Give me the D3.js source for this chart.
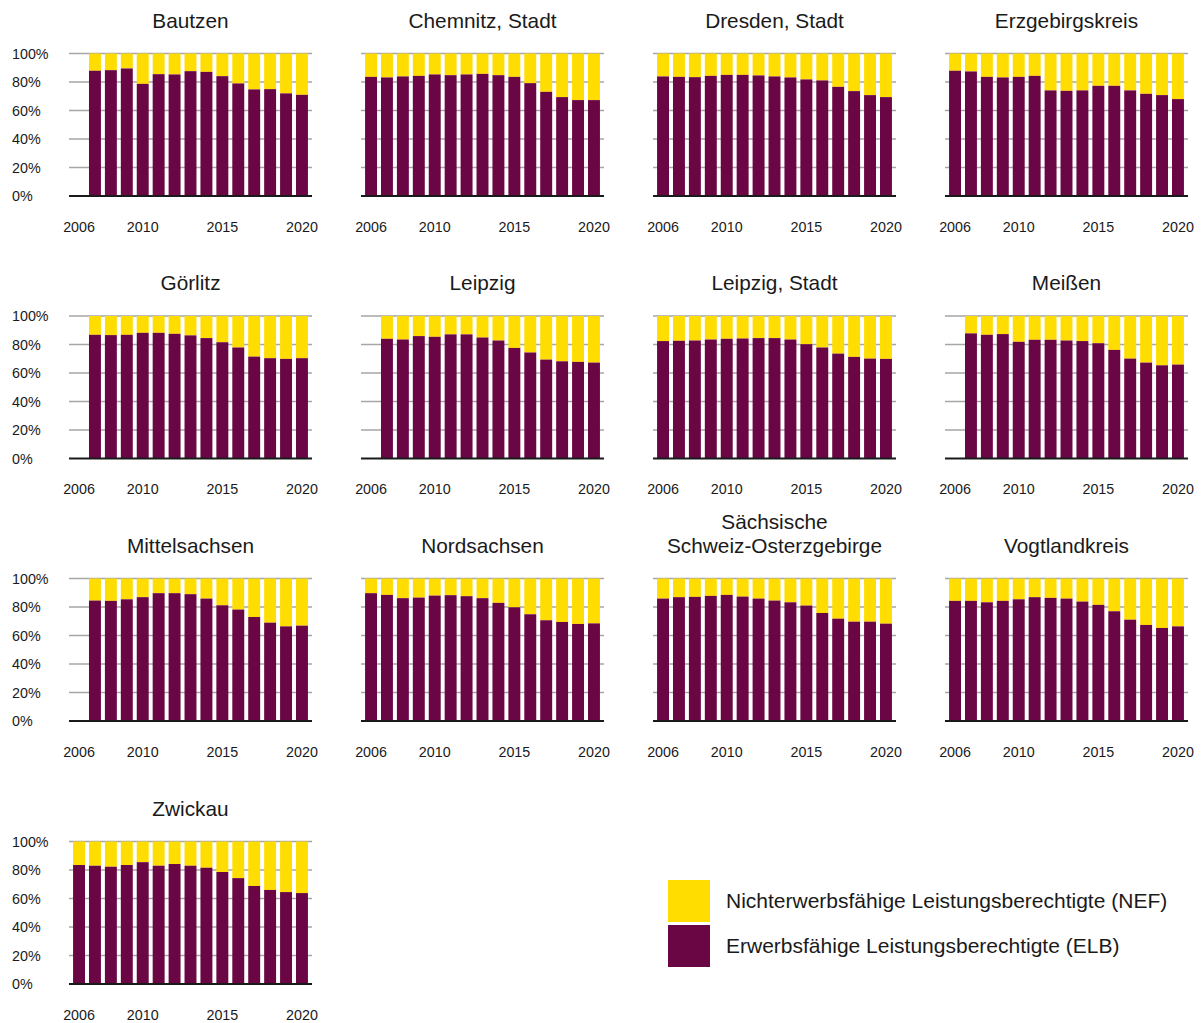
<!DOCTYPE html>
<html><head><meta charset="utf-8">
<script src="https://cdn.jsdelivr.net/npm/d3@7"></script>
<style>
html,body{margin:0;padding:0;background:#fff;}
text{font-family:"Liberation Sans",Arial,sans-serif;fill:#1a1a1a;}
</style></head>
<body>
<svg id="chart" width="1203" height="1023"></svg>
<script>
// ---------- DATA ----------
const years = [2006,2007,2008,2009,2010,2011,2012,2013,2014,2015,2016,2017,2018,2019,2020];
const yearTickLabels = [2006, 2010, 2015, 2020];
const yTickValues = [0, 20, 40, 60, 80, 100];
const seriesNames = ["Nichterwerbsfähige Leistungsberechtigte (NEF)", "Erwerbsfähige Leistungsberechtigte (ELB)"];
const regionNames = ["Bautzen","Chemnitz, Stadt","Dresden, Stadt","Erzgebirgskreis","Görlitz","Leipzig","Leipzig, Stadt","Meißen","Mittelsachsen","Nordsachsen","Sächsische Schweiz-Osterzgebirge","Vogtlandkreis","Zwickau"];
const regionTitleLines = [["Bautzen"],["Chemnitz, Stadt"],["Dresden, Stadt"],["Erzgebirgskreis"],["Görlitz"],["Leipzig"],["Leipzig, Stadt"],["Meißen"],["Mittelsachsen"],["Nordsachsen"],["Sächsische","Schweiz-Osterzgebirge"],["Vogtlandkreis"],["Zwickau"]];

// ELB share in % per year (2006..2020); null = no value
const elbBautzen      = [null,87.9,88.3,89.5,78.7,85.5,85.3,87.6,87.1,84.1,79.0,74.8,75.0,72.0,71.0];
const elbChemnitz     = [83.6,83.2,83.9,84.3,85.3,84.8,85.3,85.7,84.8,83.6,79.2,73.1,69.4,67.3,67.3];
const elbDresden      = [83.9,83.6,83.4,84.3,85.0,85.0,84.6,83.9,83.2,81.8,81.1,76.6,73.6,70.8,69.4];
const elbErzgebirge   = [87.9,87.4,83.6,83.2,83.6,84.3,74.1,73.8,74.1,77.3,77.3,74.1,71.7,70.8,68.0];
const elbGoerlitz     = [null,86.8,86.6,86.8,88.2,88.2,87.5,86.4,84.5,81.6,77.9,71.5,70.4,69.9,70.4];
const elbLeipzig      = [null,84.0,83.5,85.9,85.4,87.1,87.1,84.9,82.8,77.6,74.4,69.4,68.2,67.8,67.3];
const elbLeipzigStadt = [82.4,82.6,82.8,83.5,84.0,84.2,84.5,84.5,83.5,80.2,77.9,73.6,71.3,70.1,69.9];
const elbMeissen      = [null,87.8,86.8,87.3,81.9,83.3,83.3,82.8,82.4,80.9,76.2,70.1,67.3,65.4,65.9];
const elbMittelsachsen= [null,84.5,84.3,85.4,86.9,89.7,89.7,89.0,85.9,81.2,78.2,73.0,69.0,66.4,66.9];
const elbNordsachsen  = [89.7,88.5,86.2,86.6,88.0,88.3,87.6,86.2,82.9,79.8,74.9,70.7,69.5,68.1,68.5];
const elbSaechsSchweiz= [85.9,86.9,87.1,87.8,88.5,87.3,85.9,84.5,83.3,81.0,75.8,71.8,69.7,69.7,68.3];
const elbVogtland     = [84.3,84.3,83.3,84.3,85.4,86.9,86.4,85.9,83.8,81.5,77.0,71.1,67.4,65.3,66.4];
const elbZwickau      = [83.5,83.0,82.3,83.5,85.5,83.0,84.2,83.0,81.6,78.6,74.3,68.8,66.0,64.5,63.8];

const elbByRegion = [elbBautzen,elbChemnitz,elbDresden,elbErzgebirge,elbGoerlitz,elbLeipzig,elbLeipzigStadt,elbMeissen,elbMittelsachsen,elbNordsachsen,elbSaechsSchweiz,elbVogtland,elbZwickau];

// ---------- STYLE / LAYOUT ----------
const colorNEF = "#FFDD00";
const colorELB = "#6B0644";
const colX = [69, 361, 653, 945];
const rowBottom = [196, 458.5, 721, 984];
const plotW = 243, plotH = 142.5;
const fontFam = '"Liberation Sans",Arial,sans-serif';

const svg = d3.select("#chart");

const x = d3.scaleBand().domain(years).range([0, plotW]).paddingInner(0.25).paddingOuter(0.255);
const y = d3.scaleLinear().domain([0, 100]).range([plotH, 0]);

regionNames.forEach((name, i) => {
  const col = i % 4, row = Math.floor(i / 4);
  const g = svg.append("g").attr("transform", `translate(${colX[col]},${rowBottom[row] - plotH})`);

  // grid
  g.append("g").selectAll("line").data(yTickValues.filter(v => v > 0)).join("line")
    .attr("x1", 0).attr("x2", plotW)
    .attr("y1", d => y(d)).attr("y2", d => y(d))
    .attr("stroke", "#a6a6a6").attr("stroke-width", 1.3);

  const data = years.map((yr, k) => ({year: yr, elb: elbByRegion[i][k]})).filter(d => d.elb !== null);

  // NEF (top)
  g.append("g").selectAll("rect").data(data).join("rect")
    .attr("x", d => x(d.year)).attr("width", x.bandwidth())
    .attr("y", y(100)).attr("height", d => y(d.elb) - y(100))
    .attr("fill", colorNEF);
  // ELB (bottom)
  g.append("g").selectAll("rect").data(data).join("rect")
    .attr("x", d => x(d.year)).attr("width", x.bandwidth())
    .attr("y", d => y(d.elb)).attr("height", d => y(0) - y(d.elb))
    .attr("fill", colorELB);

  // baseline
  g.append("line").attr("x1", 0).attr("x2", plotW).attr("y1", y(0)).attr("y2", y(0))
    .attr("stroke", "#1a1a1a").attr("stroke-width", 2);

  // x axis labels
  const xAxis = d3.axisBottom(x).tickValues(yearTickLabels).tickSize(0).tickPadding(0);
  const xa = g.append("g").attr("transform", `translate(0,${plotH + 30.5})`).call(xAxis);
  xa.select(".domain").remove();
  xa.selectAll("text").attr("font-size", 14.3).attr("dy", "0.35em").attr("y", 0)
    .style("font-family", fontFam).attr("fill", "#1a1a1a");

  // y labels only in first column
  if (col === 0) {
    const yAxis = d3.axisLeft(y).tickValues(yTickValues).tickFormat(d => d + "%").tickSize(0);
    const ya = g.append("g").call(yAxis);
    ya.select(".domain").remove();
    ya.selectAll("text").attr("text-anchor", "start").attr("x", 12 - colX[0])
      .attr("font-size", 14.3).style("font-family", fontFam).attr("fill", "#1a1a1a");
  }

  // title
  const lines = regionTitleLines[i];
  const t = g.append("text").attr("text-anchor", "middle").attr("font-size", 20.8)
    .attr("x", plotW / 2);
  lines.forEach((ln, li) => {
    t.append("tspan").attr("x", plotW / 2)
      .attr("y", -33 - (lines.length - 1 - li) * 24).attr("dy", "0.35em").text(ln);
  });
});

// legend
const legend = svg.append("g").attr("transform", "translate(668,880)");
const legendColors = [colorNEF, colorELB];
seriesNames.forEach((s, i) => {
  legend.append("rect").attr("x", 0).attr("y", i * 45).attr("width", 42).attr("height", 42).attr("fill", legendColors[i]);
  legend.append("text").attr("x", 58).attr("y", i * 45 + 21).attr("dy", "0.35em")
    .attr("font-size", 21).text(s);
});
</script>
</body></html>
